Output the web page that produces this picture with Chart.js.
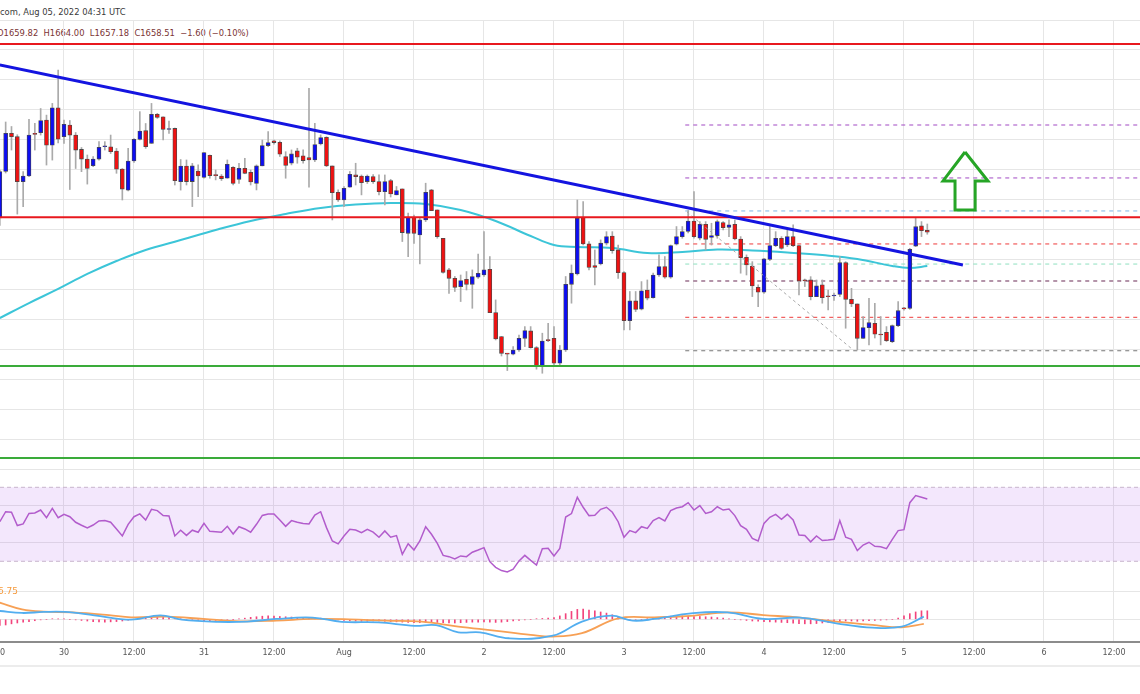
<!DOCTYPE html>
<html>
<head>
<meta charset="utf-8">
<script src="https://cdn.jsdelivr.net/npm/chart.js@4.4.0/dist/chart.umd.min.js"></script>
<style>
  body { margin: 0; background: #fff; width: 1140px; height: 694px; overflow: hidden; position: relative; font-family: "DejaVu Sans", sans-serif; }
  canvas { position: absolute; left: 0; }
  .txt { position: absolute; white-space: pre; }
</style>
</head>
<body>
<div class="txt" style="left:0;top:7px;font-size:8.4px;color:#3a3a3a">com, Aug 05, 2022 04:31 UTC</div>
<div class="txt" style="left:-3px;top:28px;font-size:8.4px;color:#7b3434">O1659.82  H1664.00  L1657.18  C1658.51  −1.60 (−0.10%)</div>
<canvas id="main" width="1140" height="457" style="top:20px"></canvas>
<canvas id="rsi" width="1140" height="101" style="top:477px"></canvas>
<canvas id="macd" width="1140" height="88" style="top:578px"></canvas>
<div class="txt" style="left:-2px;top:586px;font-size:9px;color:#f59a3c">6.75</div>
<div class="txt" style="left:-18px;top:648px;font-size:8px;color:#555">12:00</div>
<div style="position:absolute;left:0;top:665px;width:1140px;height:2px;background:#ececec"></div>
<script>
// hourly ETH/USD candles, hours counted from Jul 30 00:00 (first candle Jul 29 13:00)
const startHour = -11;
const opens  = [1668,1699,1724.4,1722.2,1692.2,1696,1724.2,1724.9,1733.3,1716.6,1741.5,
  1722.2,1730,1723.3,1713.7,1707.3,1702.9,1707.3,1715.5,1715.5,1712.6,
  1700.6,1686.6,1706,1720.4,1726.2,1717.8,1737.1,1735.5,1727,1727.7,
  1692.2,1702.6,1692.3,1699.3,1695.1,1709.8,1696.5,1696,1694.5,1701.8,
  1693.8,1701.1,1698.5,1691.1,1702.7,1716.3,1719.4,1718.5,1709,1704.5,
  1712.7,1709.4,1708.3,1706.7,1717.4,1721.8,1702.7,1685.1,1680,1688.5,
  1696.7,1696,1692.3,1695.6,1692.3,1685.6,1692.9,1683.4,1687.4,1657.8,
  1668.5,1656.7,1666.7,1686.7,1673.4,1654.5,1633.4,1627.8,1622.3,1627.1,
  1623.8,1628.5,1630,1633.8,1604.9,1588.9,1577.6,1577.2,1580,1587.8,
  1592.7,1581.6,1569.6,1586.7,1587.8,1571.2,1580,1623.8,1630.7,1668.5,
  1650.7,1636.3,1637.4,1651.2,1656,1646.7,1631.6,1599.6,1612.7,1607.3,
  1620,1614.9,1630,1635.6,1628.5,1650.5,1655.6,1659,1666,1654.5,
  1663.8,1655.1,1656.3,1665,1661.8,1663.8,1654,1641.8,1636,1621.8,
  1618.5,1640.4,1649.6,1654.4,1650,1655.6,1649.6,1626.7,1626.7,1615.6,
  1623.4,1615.6,1616,1617.1,1638.2,1613.8,1610.7,1587.8,1594.9,1597.8,
  1590.2,1591.8,1585.6,1596.2,1607.8,1607.8,1649.3,1662.7,1659.82];
const highs  = [1700,1732,1729,1723.5,1698.9,1733.8,1731.1,1741,1736.6,1744.4,1766.6,
  1733.3,1733,1725,1715,1710,1708.9,1718.9,1718.9,1723.3,1714.4,
  1701,1714.4,1721,1738.9,1731,1744.4,1737.8,1735.5,1732.6,1728,
  1707,1706.7,1704.4,1703.4,1711.6,1710,1700,1697,1706.7,1702.2,
  1704.5,1707.8,1700,1703.4,1720,1725.6,1720,1719.4,1712.2,1713.4,
  1714.5,1713.4,1754.5,1731.1,1723.4,1722.2,1702.7,1686.7,1689,1699,
  1704.5,1696.7,1696.7,1697,1696.7,1696.7,1693.8,1689,1687.4,1671.2,
  1670,1667.8,1691.2,1687.1,1673.4,1654.5,1634.5,1629,1630,1632.3,
  1633.4,1644,1658.9,1642.3,1613.4,1589,1577.8,1582.3,1590,1595.6,
  1595.6,1582.3,1591.2,1597.8,1595.6,1583,1629,1636.7,1680,1679,
  1652.3,1646.7,1653.4,1658.9,1658.9,1650,1632.3,1619,1619,1625.6,
  1626.7,1631.2,1643.4,1642.3,1650,1662.3,1662.3,1673,1685.6,1665.6,
  1665.6,1664.5,1666.7,1665.6,1666.7,1666.7,1655.6,1643.4,1638.9,1623.4,
  1641.1,1662.3,1658.9,1655.6,1660,1663.4,1650,1627.3,1628.9,1626.7,
  1626.7,1620,1618,1642.3,1638.9,1621.1,1610.7,1602.3,1614.5,1611.1,
  1602.3,1595.6,1596.7,1612.2,1608.5,1647.8,1667.8,1665.6,1664.0];
const lows   = [1663,1698,1713.3,1670.6,1675.5,1695.5,1713.3,1723.3,1703.3,1706.6,1718,
  1717.8,1687,1701,1698.9,1690.6,1702.2,1706.6,1713.3,1711,1697.8,
  1680,1686,1705,1720,1714.4,1717.8,1734.4,1720,1724.4,1690,
  1686.6,1690,1675.6,1682.2,1694.5,1694.5,1693.4,1693,1694.5,1690,
  1691,1697.5,1690,1686.7,1702.7,1715.6,1717.3,1709,1694.5,1703.4,
  1704.5,1704.5,1688.5,1705.6,1716.7,1702.2,1666.7,1679,1675.6,1688.5,
  1690,1683.4,1691,1691,1683.4,1676.7,1682,1683.4,1652.3,1642.3,
  1651,1637.4,1665.6,1672.9,1654.5,1631.2,1617.8,1619,1612.3,1620,
  1607.8,1627.8,1629,1604.9,1586.7,1576,1566.3,1576.7,1579,1582.3,
  1581.2,1567.2,1564.5,1585.6,1569,1569,1579,1611.2,1630,1650,
  1633.4,1623.4,1636.7,1650,1644.5,1627.8,1593.4,1593.4,1605.6,1606.7,
  1613.4,1614.5,1629,1627.8,1627.8,1650,1654.5,1658,1654.5,1653.4,
  1646.7,1650,1654.5,1660,1655.6,1653.4,1631.2,1630,1615.6,1608.9,
  1617.8,1639.6,1648.9,1647.1,1648.9,1648.9,1616.7,1622.3,1613.4,1615.6,
  1611.2,1606.7,1613,1615.6,1594.5,1608.9,1580,1587.8,1583.4,1588,
  1583.4,1585.6,1584.9,1595.6,1606.5,1607.1,1648.9,1655.6,1657.18];
const closes = [1699,1724.4,1722.2,1692.2,1696,1723.3,1723.8,1732.9,1716.6,1741.5,1720.6,
  1730.4,1723.3,1713.3,1707.3,1701.1,1707.3,1715.1,1715.6,1712.2,1700.6,
  1687.3,1706,1720.4,1726,1715.5,1737.1,1735.1,1727,1727.2,1692.9,
  1702.6,1692.3,1702.7,1696,1711.6,1696.3,1696.3,1694.3,1703.8,1691.1,
  1701.1,1697.8,1692,1702.7,1716.3,1718.3,1718.3,1710.5,1703,1710.7,
  1708.5,1706.3,1706.7,1716.9,1721.6,1702.7,1684.9,1680,1687.8,1697.1,
  1695.6,1691.6,1696,1692.3,1685.6,1692.3,1684,1686.3,1658.3,1668.5,
  1657.8,1666.7,1685.1,1672.9,1655.6,1631.8,1627.8,1621.8,1626.3,1623.8,
  1628.9,1631.1,1633.4,1604.9,1587.4,1577.8,1577.2,1580,1587.8,1593,
  1581.6,1569.6,1586,1586.3,1571.2,1580,1623.8,1631.2,1667.8,1650.7,
  1635.1,1635.1,1651.2,1655.6,1646.3,1631.6,1599.6,1612.7,1607.1,1619.4,
  1614.5,1630,1635.6,1628.5,1649.6,1655.6,1659,1666,1655.6,1663.8,
  1653.8,1656.3,1665.6,1661.6,1663.4,1654,1641.6,1636.7,1622.7,1618.5,
  1640.7,1649.6,1654.4,1647.8,1655.6,1649.6,1626,1626,1615.6,1622.7,
  1614.9,1615.5,1616.2,1638.2,1613.8,1610.7,1587.8,1594.9,1598.2,1590.5,
  1590,1586.2,1596.2,1606.2,1607.4,1647.1,1662.2,1659.6,1658.51];

// 100-period moving average, read at sample hours
const maHours  = [-11,-6,-1,4,9,14,20,26,32,38,44,50,56,62,68,74,80,84,88,94,100,106,112,118,124,130,136,142,145,148];
const maValues = [1601.3,1611.3,1620.7,1630.7,1639.3,1646.7,1653.3,1660,1666,1670.7,1674.7,1677,1678,1677.3,1673.3,1666,1656,1650,1648.7,1648,1644.7,1645.3,1647,1646.3,1645,1643.3,1640.7,1636,1634.7,1636];

// RSI(14), one value per candle
const rsiValues = [51.4,56.8,56.5,49.3,50.2,55.9,56.1,57.7,53.6,58.6,53.6,
  55.4,54.1,51.1,49.5,48.0,49.6,51.8,52.0,51.1,47.5,
  43.7,50.0,54.1,55.6,52.3,58.1,57.4,54.7,54.5,43.7,
  46.8,44.0,46.8,45.7,50.5,46.2,46.0,45.7,48.9,44.8,
  48.7,47.5,45.7,50.0,54.8,55.6,55.6,52.3,48.9,52.0,
  51.1,50.4,50.2,55.0,56.8,48.2,41.0,39.4,43.7,47.3,
  46.9,45.5,47.3,45.8,43.0,46.4,43.0,43.9,33.8,39.5,
  36.1,41.0,48.7,44.6,39.7,33.2,32.5,31.3,32.9,32.5,
  34.9,36.1,37.4,29.8,26.7,25.0,24.2,25.7,30.2,33.2,
  30.5,28.0,36.8,37.0,32.9,37.0,53.9,55.8,64.6,59.2,
  54.7,54.9,58.1,59.2,56.5,51.4,43.0,46.6,45.5,48.7,
  47.8,52.0,53.6,51.8,57.4,58.8,59.5,61.7,57.7,60.1,
  55.9,56.8,59.5,57.7,58.3,54.7,49.3,47.3,42.4,41.0,
  50.5,53.8,55.4,52.7,55.4,52.3,44.2,43.9,40.5,43.7,
  41.2,41.5,41.9,52.0,43.0,41.9,35.8,38.8,40.3,38.1,
  37.9,36.8,41.9,46.6,47.1,61.7,65.5,64.6,63.7];

// MACD(12,26,9)
const macdHours  = [-11,-7.2,-3.5,0.2,5.2,11.5,16.5,20.2,26.4,31.4,36.4,42.6,47.6,53.9,60.1,63.8,67.6,71.3,76.3,83.8,88.8,93.8,97.5,101.2,107.5,113.7,119.9,126.2,132.4,138.6,143.6,147.4];
const macdValues = [2.95,2.24,2.6,2.6,1.4,-0.12,1.4,-0.12,-0.9,-0.8,0.12,0.6,-0.9,-1.1,-2.3,-2.05,-4.6,-4.6,-6.7,-5.8,-0.8,1.28,-0.47,0.12,2.1,2.45,0.12,0.6,-1.4,-2.95,-2.6,0.93];
const signalHours  = [-11,-7.2,-3.5,1.5,7.7,11.5,17.7,23.9,30.2,36.4,42.6,48.9,55.1,61.3,67.6,73.8,80,83.8,88.8,95,101.2,107.5,113.7,119.9,126.2,132.4,138.6,143.6,147.4];
const signalValues = [5.87,3.53,2.7,2.45,1.5,0.7,0.93,0.12,-0.7,-0.47,0.12,0,-0.47,-0.82,-2.59,-4,-5.5,-6.1,-4.9,0.35,0.7,1.2,2.45,1.5,0.6,-0.82,-2,-2.8,-1.6];
const histValues = [-2.2,-2.0,-1.6,-1.3,-1.0,-0.8,-0.5,
  -0.2,0,0.2,0.2,0.1,0,-0.2,-0.4,-0.6,
  -0.8,-0.9,-1.0,-0.9,-0.8,-0.6,-0.3,0,
  0.3,0.6,0.8,0.9,0.8,0.6,0.3,0.1,
  -0.2,-0.4,-0.5,-0.6,-0.5,-0.4,-0.3,-0.2,-0.1,0.1,
  0.4,0.7,0.9,1.1,1.2,1.1,1.0,0.9,0.8,0.7,0.6,
  0.6,0.5,0.4,0.2,0,-0.2,-0.4,
  -0.5,-0.6,-0.7,-0.7,-0.6,-0.6,-0.7,-0.8,-0.9,-1.0,-1.1,
  -1.2,-1.2,-1.1,-1.0,-1.1,-1.2,-1.3,-1.3,-1.2,-1.1,-1.0,-1.0,-0.9,-1.0,-1.1,-1.0,-0.8,-0.6,-0.4,-0.2,
  0,0.2,0.3,0.4,0.6,
  1.2,2.0,2.8,3.5,3.6,3.3,3.0,2.6,2.2,1.6,
  0.9,0.3,-0.2,-0.3,-0.1,0.2,0.4,
  0.7,0.9,1.1,1.2,1.2,1.1,1.0,1.0,0.9,0.8,0.6,0.4,0.2,
  0,-0.2,-0.4,-0.6,-0.7,-0.8,
  -0.9,-1.0,-1.1,-1.2,-1.4,-1.5,-1.6,-1.6,-1.5,-1.3,-1.1,-0.9,
  -0.7,-0.6,-0.6,-0.7,-0.6,-0.5,-0.4,-0.3,-0.2,0,0.4,
  1.2,2.0,2.6,3.0,3.0];

// time axis
const tickHours  = [0,12,24,36,48,60,72,84,96,108,120,132,144,156,168,180];
const tickLabels = ['30','12:00','31','12:00','Aug','12:00','2','12:00','3','12:00','4','12:00','5','12:00','6','12:00'];
const xMin = -10.97, xMax = 184.46;

// drawings
const resistance = [1784, 1668.5];
const support = [1569.3, 1508];
const trendHours = [-11, 154.1], trendPrices = [1770, 1636.7];
const fibStart = 106.5;
const fibLevels = [1730, 1694.7, 1672.7, 1650.7, 1637.3, 1626, 1601.8, 1579.5];
const fibColors = ['#a24bc4', '#a24bc4', '#7fb6e6', '#ee3b3b', '#8fe0c0', '#6a2a55', '#ee3b3b', '#777777'];
const diagHours = [106.8, 135.3], diagPrices = [1672, 1580];
const arrowHours  = [154.46, 158.4, 156.2, 156.2, 152.75, 152.75, 150.7, 154.46];
const arrowPrices = [1712, 1692.7, 1692.7, 1673.3, 1673.3, 1692.7, 1692.7, 1712];

const hours = opens.map((_, i) => startHour + i);
const pts = (xs, ys) => xs.map((x, i) => ({x: x, y: ys[i]}));
const flat = (v) => [{x: xMin, y: v}, {x: xMax, y: v}];

const gridColor = '#e6e6e6';
function xAxis(labels) {
  return {
    type: 'linear', min: xMin, max: xMax, offset: false,
    afterBuildTicks: s => { s.ticks = tickHours.map(v => ({value: v})); },
    afterFit: s => { s.height = labels ? 24 : 0; s.paddingLeft = 0; s.paddingRight = 0; },
    grid: {color: gridColor, drawTicks: false, offset: false},
    border: {display: labels, color: '#8c8c8c', width: 2},
    ticks: {display: labels, autoSkip: false, maxRotation: 0, padding: 6, color: '#555',
      font: {size: 8, family: 'DejaVu Sans'}, callback: (v, i) => tickLabels[i]}
  };
}
function yAxis(min, max, tickList) {
  return {
    min: min, max: max,
    afterFit: s => { s.width = 0; },
    afterBuildTicks: s => { s.ticks = tickList.map(v => ({value: v})); },
    grid: {color: gridColor, drawTicks: false},
    border: {display: false},
    ticks: {display: false}
  };
}
const common = {
  responsive: false, animation: false, events: [],
  layout: {padding: 0, autoPadding: false},
  plugins: {legend: {display: false}, tooltip: {enabled: false}},
  elements: {point: {radius: 0}, line: {tension: 0}}
};

// top-most first
const mainSets = [];
mainSets.push({type: 'line', data: pts(arrowHours, arrowPrices), borderColor: '#26a526', borderWidth: 3, borderJoinStyle: 'miter', order: 1});
mainSets.push({type: 'line', data: pts(trendHours, trendPrices), borderColor: '#1414e0', borderWidth: 3, order: 2});
resistance.forEach(v => mainSets.push({type: 'line', data: flat(v), borderColor: '#e8181e', borderWidth: 2, order: 3}));
support.forEach(v => mainSets.push({type: 'line', data: flat(v), borderColor: '#3aab3a', borderWidth: 2, order: 3}));
mainSets.push({type: 'line', data: pts(diagHours, diagPrices), borderColor: '#a9a9a9', borderWidth: 1, borderDash: [3, 3], order: 4});
mainSets.push({type: 'bar', data: hours.map((h, i) => ({x: h, y: [opens[i], closes[i]]})), grouped: false, barThickness: 4, minBarLength: 1,
  backgroundColor: hours.map((h, i) => closes[i] >= opens[i] ? '#0d0df2' : '#ee1212'),
  borderColor: '#4a4a4a', borderWidth: 0.8, borderSkipped: false, order: 7});
mainSets.push({type: 'bar', data: hours.map((h, i) => ({x: h, y: [lows[i], highs[i]]})), grouped: false, barThickness: 1,
  backgroundColor: '#aaaaaa', order: 8});
mainSets.push({type: 'line', data: pts(maHours, maValues), borderColor: '#3cc5d8', borderWidth: 2, tension: 0.4, order: 9});
fibLevels.forEach((v, i) => mainSets.push({type: 'line', data: [{x: fibStart, y: v}, {x: xMax, y: v}],
  borderColor: fibColors[i], borderWidth: 1, borderDash: [4, 4], order: 10}));

new Chart('main', {
  type: 'bar',
  data: {datasets: mainSets},
  options: Object.assign({}, common, {
    scales: {x: xAxis(false), y: yAxis(1495.33, 1800, [1500,1520,1540,1560,1580,1600,1620,1640,1660,1680,1700,1720,1740,1760,1780,1800])}
  })
});

new Chart('rsi', {
  type: 'line',
  data: {datasets: [
    {data: hours.map((h, i) => ({x: h, y: rsiValues[i]})), borderColor: '#b25ccc', borderWidth: 1.5, order: 1},
    {data: flat(70), borderColor: '#c8b4cc', borderWidth: 1, borderDash: [4, 3], order: 2},
    {data: flat(30), borderColor: '#c8b4cc', borderWidth: 1, borderDash: [4, 3], fill: {value: 70},
      backgroundColor: 'rgba(160, 60, 230, 0.12)', order: 3}
  ]},
  options: Object.assign({}, common, {
    scales: {x: xAxis(false), y: yAxis(20.97, 75.57, [40, 60])}
  })
});

new Chart('macd', {
  type: 'bar',
  data: {datasets: [
    {type: 'line', data: pts(macdHours, macdValues), borderColor: '#52aef0', borderWidth: 1.8, tension: 0.4, order: 1},
    {type: 'line', data: pts(signalHours, signalValues), borderColor: '#f7a055', borderWidth: 1.8, tension: 0.4, order: 2},
    {type: 'bar', data: hours.map((h, i) => ({x: h, y: histValues[i]})), barThickness: 1, grouped: false,
      backgroundColor: '#f2447c', order: 3}
  ]},
  options: Object.assign({}, common, {
    scales: {x: xAxis(true), y: yAxis(-8.02, 14.6, [0, 10])}
  })
});
</script>
</body>
</html>
